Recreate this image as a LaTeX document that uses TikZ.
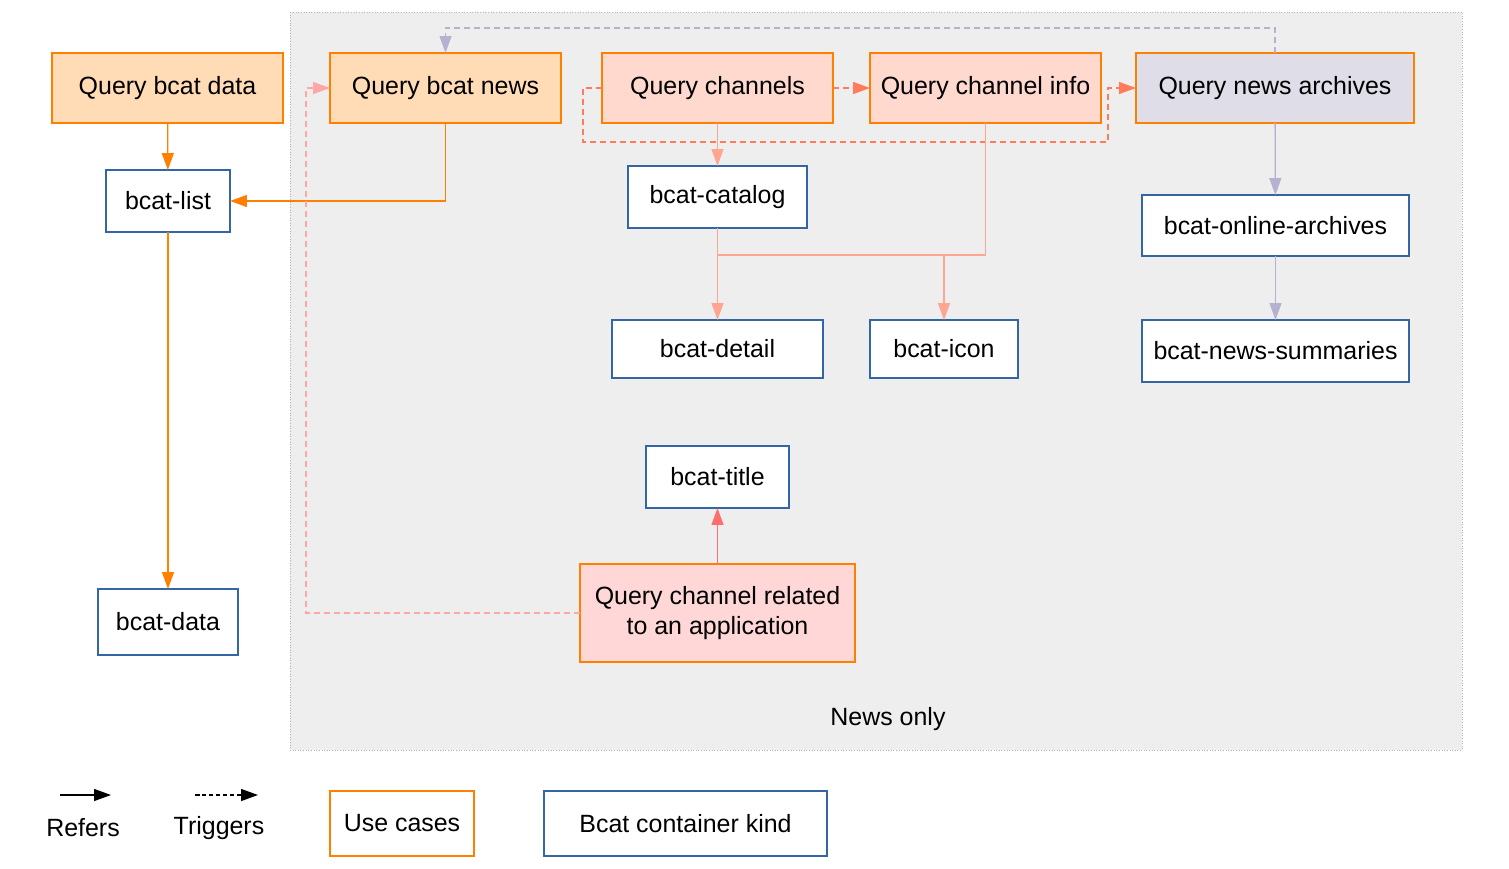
\documentclass[tikz,border=0pt]{standalone}
\usepackage{fontspec}
\setmainfont{Liberation Sans}
\usetikzlibrary{arrows.meta}
\definecolor{ucorange}{HTML}{FFDBB6}
\definecolor{ucbrick}{HTML}{FFD8CE}
\definecolor{ucred}{HTML}{FFD7D7}
\definecolor{ucindigo}{HTML}{DFDDE8}
\definecolor{ucborder}{HTML}{FF8000}
\definecolor{kindborder}{HTML}{3465A4}
\definecolor{arrorange}{HTML}{FF8000}
\definecolor{arrcoral}{HTML}{FF7B59}
\definecolor{arrsalmon}{HTML}{FFA590}
\definecolor{arrpink}{HTML}{FFA6A6}
\definecolor{arrred}{HTML}{FF6D6D}
\definecolor{arrlav}{HTML}{B4B2CE}
\definecolor{regionfill}{HTML}{EEEEEE}
\definecolor{regionborder}{HTML}{B3B3B3}
\begin{document}
\begin{tikzpicture}[x=0.02cm,y=-0.02cm,
  font=\fontsize{14.2}{16.6}\selectfont,
  usecase/.style={draw=ucborder, line width=0.7pt, inner sep=0pt, outer sep=0pt, align=center},
  kind/.style={draw=kindborder, fill=white, line width=0.7pt, inner sep=0pt, outer sep=0pt},
  conn/.style={line width=0.75pt, -{Triangle[length=0.34cm,width=0.24cm]}},
  trig/.style={conn, dash pattern=on 0.12cm off 0.08cm},
  lbl/.style={inner sep=0pt}]
\useasboundingbox (0,0) rectangle (1509,869);
% region
\draw[fill=regionfill, draw=regionborder, densely dotted, line width=0.5pt] (290,12) rectangle (1462,750);
\node[lbl] (newsonly) at (888,719) {News only};

% use cases
\node[usecase, fill=ucorange, minimum width=4.62cm, minimum height=1.40cm] (qdata) at (167.5,88) {Query bcat data};
\node[usecase, fill=ucorange, minimum width=4.62cm, minimum height=1.40cm] (qnews) at (445.5,88) {Query bcat news};
\node[usecase, fill=ucbrick, minimum width=4.62cm, minimum height=1.40cm] (qch) at (717.5,88) {Query channels};
\node[usecase, fill=ucbrick, minimum width=4.62cm, minimum height=1.40cm] (qinfo) at (985.5,88) {Query channel info};
\node[usecase, fill=ucindigo, minimum width=5.56cm, minimum height=1.40cm] (qarch) at (1275,88) {Query news archives};
\node[usecase, fill=ucred, minimum width=5.50cm, minimum height=1.96cm] (qrel) at (717.5,613) {Query channel related\\to an application};

% kinds
\node[kind, minimum width=2.48cm, minimum height=1.24cm] (blist) at (168,201) {bcat-list};
\node[kind, minimum width=2.80cm, minimum height=1.32cm] (bdata) at (168,622) {bcat-data};
\node[kind, minimum width=3.58cm, minimum height=1.24cm] (bcatalog) at (717.5,197) {bcat-catalog};
\node[kind, minimum width=4.22cm, minimum height=1.16cm] (bdetail) at (717.5,349) {bcat-detail};
\node[kind, minimum width=2.96cm, minimum height=1.16cm] (bicon) at (944,349) {bcat-icon};
\node[kind, minimum width=5.34cm, minimum height=1.22cm] (barch) at (1275.5,225.5) {bcat-online-archives};
\node[kind, minimum width=5.34cm, minimum height=1.24cm] (bsum) at (1275.5,351) {bcat-news-summaries};
\node[kind, minimum width=2.86cm, minimum height=1.24cm] (btitle) at (717.5,477) {bcat-title};

% waypoints
\coordinate (archtop) at (1275,28);
\coordinate (reltrack) at (306,612);
\coordinate (chleft) at (583,87);
\coordinate (chbottom) at (1108,142);
\coordinate (join) at (944,255);
\coordinate (joinleft) at (717.5,255);

% connectors
\draw[conn, arrorange] (qdata) -- (blist);
\draw[conn, arrorange] (qnews.south) |- (blist.east);
\draw[conn, arrorange] (blist) -- (bdata);
\draw[trig, arrlav] (qarch.north) -- (qarch.north |- archtop) -| (qnews.north);
\draw[trig, arrpink] (qrel.west) -- (qrel.west -| reltrack) |- (qnews.west);
\draw[trig, arrcoral] (qch.east) -- (qinfo.west);
\draw[trig, arrcoral] (qch.west) -- (qch.west -| chleft) |- (chbottom) |- (qarch.west);
\draw[conn, arrsalmon] (qch) -- (bcatalog);
\draw[conn, arrsalmon] (bcatalog) -- (bdetail);
\draw[conn, arrsalmon] (qinfo.south) |- (join) -- (bicon.north);
\draw[line width=0.75pt, arrsalmon] (join) -- (joinleft);
\draw[conn, arrlav] (qarch) -- (barch);
\draw[conn, arrlav] (barch) -- (bsum);
\draw[conn, arrred] (qrel) -- (btitle);

% legend
\coordinate (r1) at (60,795);
\coordinate (r2) at (111,795);
\coordinate (t1) at (195,795);
\coordinate (t2) at (258,795);
\draw[conn, black] (r1) -- (r2);
\draw[trig, black, dash pattern=on 0.09cm off 0.05cm] (t1) -- (t2);
\node[lbl] (lrefers) at (83,828) {Refers};
\node[lbl] (ltrig) at (219,828) {Triggers};
\node[usecase, fill=white, minimum width=2.88cm, minimum height=1.30cm] (luc) at (402,823.5) {Use cases};
\node[kind, minimum width=5.66cm, minimum height=1.30cm] (lkind) at (685.5,823.5) {Bcat container kind};
\end{tikzpicture}
\end{document}
